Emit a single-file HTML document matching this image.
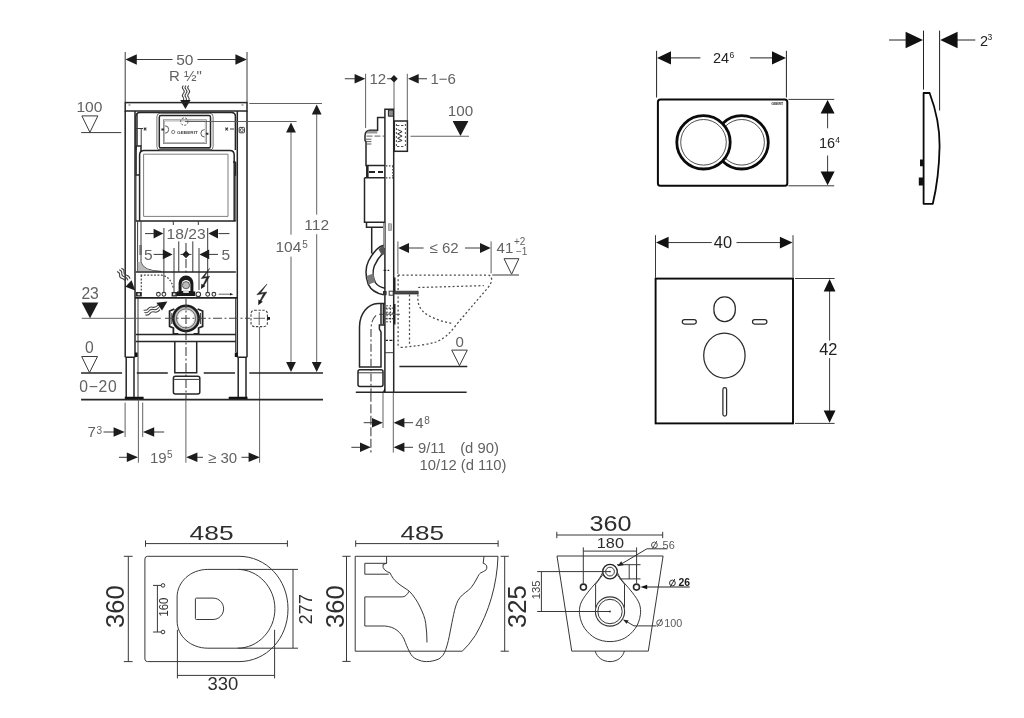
<!DOCTYPE html>
<html>
<head>
<meta charset="utf-8">
<title>Installation dimensions</title>
<style>
html,body{margin:0;padding:0;background:#fff;}
body{width:1024px;height:718px;overflow:hidden;font-family:"Liberation Sans",sans-serif;}
svg{display:block;filter:blur(0.5px);}
text{font-family:"Liberation Sans",sans-serif;}
.t{fill:#626262;font-size:15px;}
.ts{fill:#626262;font-size:9.5px;}
.l{stroke:#3a3a3a;stroke-width:1;fill:none;}
.lt{stroke:#5a5a5a;stroke-width:0.95;fill:none;}
.lk{stroke:#262626;stroke-width:1.5;fill:none;}
.lb{stroke:#222;stroke-width:2;fill:none;}
.a{fill:#1c1c1c;stroke:none;}
.d{stroke:#4a4a4a;stroke-width:1.25;fill:none;stroke-dasharray:2 2.3;}
.cl{stroke:#444;stroke-width:1.1;fill:none;stroke-dasharray:9 2.5 2 2.5;}
.r{fill:#111;}
.rl{stroke:#111;stroke-width:1;fill:none;}
.rt{fill:#222;font-size:16px;}
.b{stroke:#383838;stroke-width:1;fill:none;}
.bt{fill:#2e2e2e;}
</style>
</head>
<body>
<svg width="1024" height="718" viewBox="0 0 1024 718">
<rect x="0" y="0" width="1024" height="718" fill="#ffffff"/>
<g id="all">

<!-- ============ FRONT VIEW ============ -->
<g id="front">
<!-- dim 50 -->
<path class="l" d="M125.2,52 V102 M247,52 V102 M136,59.5 H172.5 M197.5,59.5 H236"/>
<path class="a" d="M125.4,59.5 L136.8,54.3 V64.7 Z M246.8,59.5 L235.4,54.3 V64.7 Z"/>
<text class="t" x="176.2" y="65" style="font-size:15.5px">50</text>
<text class="t" x="169" y="81.3" style="font-size:15px">R ½"</text>
<!-- water arrow top -->
<path class="lt" style="stroke:#444;stroke-width:1.05" d="M183.3,85.5 q-2,2 0,4 q2,2 0,4 q-2,2 0,4 q1,1.4 0,3 M186,85.5 q-2,2 0,4 q2,2 0,4 q-2,2 0,4 q1,1.4 0,3 M188.7,85.5 q-2,2 0,4 q2,2 0,4 q-2,2 0,4 q1,1.4 0,3"/>
<path class="a" d="M180.2,100 H190.6 L185.4,109 Z"/>
<!-- frame -->
<rect class="lk" x="125.2" y="102.6" width="121.8" height="8.4"/>
<path class="lk" d="M125.2,111 V357.3 M126.2,357.3 V398.5 M135,111 V357.3 M134,357.3 V398.5 M125.2,357.3 H135 M247,111 V357.3 M246,357.3 V398.5 M237.3,111 V357.3 M238.2,357.3 V398.5 M237.3,357.3 H247"/>
<path class="l" d="M138,298 V398.5 M235.6,298 V352"/>
<path class="r" d="M124.8,396.8 H143.6 V399.8 H124.8 Z M228.7,396.8 H247.5 V399.8 H228.7 Z M135,352.5 h2.6 v4.6 h-2.6z M234.8,352.5 h2.6 v4.6 h-2.6z"/>
<path class="lt" d="M128.5,105 h2 M241.5,105 h2"/>
<!-- tank -->
<path class="lk" d="M136,150 V116.5 Q136,112.6 140,112.6 H231.4 Q235.4,112.6 235.4,116.5 V150"/>
<path class="lk" d="M139.6,221 V155 Q139.6,150.4 144,150.4 H229.8 Q234.2,150.4 234.2,155 V221"/>
<path class="lt" d="M143.6,216.4 V154.2 H228 V216.4 Z" style="stroke:#777"/>
<path class="lk" d="M136,146 V175 H139.6 M136,146 H141 V152 M235.6,162 V175 H234 M235.6,162 H233"/>
<path class="l" d="M136,221 V150 M235.8,221 V175"/>
<path class="l" d="M137.3,113 V146 M141.2,128 V146 M136,128.5 H143"/>
<path class="lb" d="M135.8,221 H235.8" style="stroke-width:1.6"/>
<!-- plate opening -->
<rect class="lt" x="156.9" y="113.3" width="56.2" height="36.8" rx="3.4" style="stroke:#666"/>
<rect class="lk" x="159.3" y="115.6" width="51.2" height="32.2" rx="1.6" style="stroke-width:1.5"/>
<path class="l" d="M159.3,149.2 H210.5" style="stroke-width:1.2"/>
<rect class="lt" x="163.4" y="119.8" width="43" height="23.8" style="stroke:#777;stroke-width:0.8"/>
<rect class="lt" x="164.6" y="121" width="40.6" height="21.4" style="stroke:#999;stroke-width:0.7"/>
<circle class="lt" cx="184.3" cy="121.6" r="3.7" stroke-dasharray="2 1.6" style="stroke:#444"/>
<path class="lt" d="M165,125.8 a3.7,3.7 0 0 1 0,7.4 M204.6,137 a3.7,3.7 0 0 1 0,-7.4" style="stroke:#555"/>
<circle class="lt" cx="173.2" cy="132" r="1.6" style="stroke:#777"/>
<path class="a" d="M161.4,128.4 h2.6 v2 h-2.6z M205.8,132.8 h2.6 v2 h-2.6z" style="fill:#333"/>
<text x="177" y="133.7" style="font-size:4.4px;font-weight:bold;fill:#444" textLength="20.8" lengthAdjust="spacingAndGlyphs">GEBERIT</text>
<path class="l" d="M143.8,127.6 l2.6,2.8 m0,-2.8 l-2.6,2.8 M225.4,127.6 l2.6,2.8 m0,-2.8 l-2.6,2.8 M230,129 h4" style="stroke-width:1.1"/>
<rect class="l" x="239.2" y="127.4" width="5.2" height="5.4" rx="0.8"/>
<circle class="lt" cx="241.8" cy="130.1" r="1.5"/>
<!-- 104.5 / 112 reference lines -->
<path class="lt" d="M185,121.5 H296.6 M249.3,103.5 H322"/>
<!-- mid section -->
<path class="l" d="M173.3,221 v4 M198.3,221 v4"/>
<path class="l" d="M163.9,228 V293 M207.7,228 V293 M174,248 V292 M199,248 V290 M178.75,241.4 V272 M192.8,241.4 V272"/>
<path class="l" d="M141,221 V262 Q143,271 161.5,271.4 M137.6,221 V271.5"/>
<path class="lt" d="M139,246 h3 M139,248 h3 M139,250 h3 M139,252 h3 M139,254 h3" style="stroke:#444;stroke-width:1.2"/>
<path d="M141,262 Q143,271 161.5,271.4 H137.6 V262 Z" fill="#aaa" opacity="0.8"/>
<!-- 18/23 -->
<path class="l" d="M145,233.6 H154 M218.5,233.6 H229.5"/>
<path class="a" d="M163.3,233.6 L153.6,228.8 V238.4 Z M208.3,233.6 L218,228.8 V238.4 Z"/>
<text class="t" x="166.6" y="239" style="font-size:15.5px" textLength="39" lengthAdjust="spacingAndGlyphs">18/23</text>
<!-- 5 / 5 -->
<text class="t" x="144" y="259.8" style="font-size:15.5px">5</text>
<text class="t" x="221.4" y="259.8" style="font-size:15.5px">5</text>
<path class="l" d="M153.6,254.4 H163.5 M209,254.4 H218 M180.5,254.4 H191.5"/>
<path class="a" d="M172.6,254.4 L162.8,249.6 V259.2 Z M199.4,254.4 L209.2,249.6 V259.2 Z M186,250.6 l3.7,3.8 l-3.7,3.8 l-3.7,-3.8 Z"/>
<path class="cl" d="M186,243 V275"/>
<!-- bars -->
<path class="lk" d="M135.8,271.9 H235.8"/>
<path class="lb" d="M135,297.8 H237.3" style="stroke-width:1.8"/>
<!-- dotted inner -->
<path class="d" d="M140.5,275.2 H161.5 Q171,276.5 173.5,289 M141.3,275.2 V292" style="stroke-dasharray:1.8 1.6"/>
<!-- flush pipe arch -->
<path class="r" d="M178.6,295.6 V283 a7.4,7.6 0 0 1 14.8,0 V295.6 Z" style="fill:#1a1a1a"/>
<path d="M181.6,291 V284.6 a4.4,4.6 0 0 1 8.8,0 V291 Z" fill="#fff"/>
<circle cx="186" cy="285.2" r="3.6" fill="#bbb" stroke="#333" stroke-width="0.7"/>
<path class="r" d="M177,291.4 H195.2 V296 H177 Z" style="fill:#1a1a1a"/>
<path d="M183.2,290 h5.6 v3 h-5.6z" fill="#ddd"/>
<!-- valves -->
<g class="l" style="stroke-width:1.1"><circle cx="158.4" cy="294.3" r="1.9"/><circle cx="163.9" cy="294.3" r="1.9"/><circle cx="198.3" cy="294.3" r="2.3"/><circle cx="207.7" cy="294.3" r="1.9"/><circle cx="213.9" cy="294.3" r="1.9"/></g>
<path class="r" d="M135.8,292 h6 v4.6 h-6z M171.6,292 h5.4 v4.6 h-5.4z" style="fill:#2a2a2a"/>
<path d="M137.6,293.2 h2.4 v2 h-2.4z M173,293.2 h2.4 v2 h-2.4z" fill="#ddd"/>
<path class="lt" d="M218.6,294.2 H231"/><path class="a" d="M233.4,294.2 l-3.4,-1.3 v2.6z"/>
<!-- lightning inner -->
<path d="M209.6,268.4 L201.2,278.6 L206.6,277.8 L202.8,285.6 L203.8,286 L209.6,276.2 L204.2,277 Z" fill="#222" stroke="#222" stroke-width="0.5" stroke-linejoin="round"/>
<path class="a" d="M201,289 L201.4,283.8 L205.4,286 Z"/>
<!-- left wavy arrows -->
<path class="lt" style="stroke:#444;stroke-width:1.05" d="M117,271.5 q3,1 2.6,3.6 q-0.4,2.6 2.6,3.4 q3,0.8 3.4,3.6 M119.2,269.8 q3,1 2.6,3.6 q-0.4,2.6 2.6,3.4 q3,0.8 3.4,3.6 M121.4,268.2 q3,1 2.6,3.6 q-0.4,2.6 2.6,3.4 q3,0.8 3.4,3.6"/>
<path class="a" d="M125.4,286.8 L131.6,280.2 L135.2,290.6 Z"/>
<path class="lt" style="stroke:#444;stroke-width:1.05" d="M143.6,310.2 q3,0.6 4.6,-1.6 q1.6,-2.2 4.6,-1.4 q3,0.8 5.4,-2.4 M144.4,312.6 q3,0.6 4.6,-1.6 q1.6,-2.2 4.6,-1.4 q3,0.8 5.4,-2.4 M145.4,315 q3,0.6 4.6,-1.6 q1.6,-2.2 4.6,-1.4 q3,0.8 5.4,-2.4"/>
<path class="a" d="M156.4,302.8 L167.4,301.4 L162,310.6 Z"/>
<!-- drain -->
<defs><radialGradient id="dg" cx="0.5" cy="0.5" r="0.5"><stop offset="0.55" stop-color="#fff"/><stop offset="0.8" stop-color="#ccc"/><stop offset="1" stop-color="#555"/></radialGradient></defs>
<path class="lk" d="M174.4,309 L169.6,311 V326.4 L173.4,328 V333.8 H178.4 M197.6,309 L202.6,311 V326.4 L198.6,328 V333.8 H193.6" style="stroke-width:1.8"/>
<path class="l" d="M171.8,313 v11 M200.4,313 v11"/>
<circle cx="186" cy="318.4" r="12.8" fill="url(#dg)" stroke="#1c1c1c" stroke-width="2.4"/>
<circle class="l" cx="186" cy="318.4" r="9.6" style="stroke:#666"/>
<path class="cl" d="M186,299 V399"/>
<path class="lt" d="M81.7,318.3 H160.8"/>
<path class="cl" d="M165,318.3 H250"/>
<!-- cross bar + pipe -->
<path class="lk" d="M135.8,334.6 H235.8 M135.8,341.6 H235.8"/>
<path class="lk" d="M174.8,341.6 V372.8 H196.7 V341.6"/>
<rect class="lk" x="173.4" y="376.2" width="26.4" height="17.8" rx="2"/>
<path class="l" d="M173.4,379.4 H199.8"/>
<!-- elec box -->
<rect x="251" y="310.2" width="16.4" height="16.4" rx="3.5" fill="none" stroke="#444" stroke-width="1.1" stroke-dasharray="2.4 1.5"/>
<path class="lt" d="M253.5,318.3 H265 M259.2,312 V325"/>
<path class="a" d="M267,317 h3 v2.8 h-3z"/>
<path d="M267,284 L256.8,294.8 L263.6,293.6 L259.6,301.4 L260.6,301.8 L266.8,292 L260.6,293 Z" fill="#222" stroke="#222" stroke-width="0.5" stroke-linejoin="round"/>
<path class="a" d="M258.2,305.2 L258.4,299.6 L262.8,301.8 Z"/>
<path class="lt" d="M259.6,327 V462.7"/>
<!-- floor lines -->
<path class="lk" d="M81.1,373 H122.1 M136.8,373 H167.8 M203.7,373 H235 M249.3,373 H323" style="stroke-width:1.4"/>
<path class="lk" d="M81.1,399.6 H323" style="stroke-width:1.6"/>
<!-- right dims -->
<path class="lt" d="M316.7,112 V214.6 M316.7,234.2 V363 M291,130 V234.7 M291,256.6 V363"/>
<path class="a" d="M316.7,104.4 L311.8,114.4 H321.6 Z M291,122.4 L286.1,132.4 H295.9 Z M316.7,372 L311.8,362 H321.6 Z M291,372 L286.1,362 H295.9 Z"/>
<text class="t" x="304.3" y="229.8" style="font-size:15.5px">112</text>
<text class="t" x="275.4" y="252.2" style="font-size:15.5px">104</text>
<text class="ts" x="302.2" y="247.8" style="font-size:10px">5</text>
<!-- left level marks -->
<text class="t" x="76.4" y="112.3" style="font-size:15px" textLength="26" lengthAdjust="spacingAndGlyphs">100</text>
<path class="l" d="M81.9,115.9 H97.9 L89.9,132.3 Z M81.1,132.6 H121.3"/>
<text class="t" x="81.4" y="298.7" style="font-size:15.7px">23</text>
<path class="a" d="M81.7,302.6 H98.3 L90,318.2 Z"/>
<text class="t" x="85" y="352.9" style="font-size:15.7px">0</text>
<path class="l" d="M81.7,356.5 H97.5 L89.5,372.6 Z"/>
<text class="t" x="79.2" y="392.2" style="font-size:15.7px" textLength="37.6" lengthAdjust="spacing">0−20</text>
<!-- bottom dims -->
<path class="lt" d="M125.1,402.6 V437 M142.7,402.6 V437 M138.4,399.6 V462.7 M185.9,399.6 V462.7"/>
<text class="t" x="87.6" y="437.2" style="font-size:15px">7</text><text class="ts" x="96.4" y="433.6" style="font-size:10px">3</text>
<path class="l" d="M103.5,432 H114 M154,432 H164.2 M119,457.3 H128 M197,457.3 H203 M241.5,457.3 H250"/>
<path class="a" d="M124.7,432 L113.6,427.2 V436.8 Z M143,432 L154.2,427.2 V436.8 Z M138,457.3 L126.8,452.5 V462.1 Z M186.2,457.3 L197.4,452.5 V462.1 Z M259.8,457.3 L248.6,452.5 V462.1 Z"/>
<text class="t" x="150" y="462.6" style="font-size:15px">19</text><text class="ts" x="166.9" y="458.4" style="font-size:10px">5</text>
<text class="t" x="208" y="462.6" style="font-size:15px">≥ 30</text>
</g>

<!-- ============ SIDE VIEW ============ -->
<g id="side">
<!-- top dims -->
<path class="l" d="M344.8,78.75 H356 M387.2,78.75 H391 M417.5,78.75 H427"/>
<path class="lt" d="M365.6,73.75 V128 M394,82 V109 M407.3,73.75 V121"/>
<path class="a" d="M365.3,78.75 L354.6,73.9 V83.6 Z M408,78.75 L418.7,73.9 V83.6 Z M394,75 l3.7,3.75 l-3.7,3.75 l-3.7,-3.75 Z"/>
<text class="t" x="369.4" y="84.2" style="font-size:15px">12</text>
<text class="t" x="430.4" y="84.2" style="font-size:15px">1−6</text>
<text class="t" x="447.8" y="116.3" style="font-size:15.2px">100</text>
<path class="a" d="M452.6,121 H468.4 L460.5,136 Z"/>
<path class="lt" d="M410.5,136.25 H469"/>
<!-- post -->
<path class="lk" d="M384.9,392 V109.3 H393.7 V392"/>
<path d="M388.4,110 h5 v6.2 h-5z" fill="#8a8a8a" stroke="#222" stroke-width="1"/>
<!-- upper body -->
<path class="lk" d="M384.9,117.6 H377.6 V130.3 H369.5 Q365,131 365,136 V140.4 Q365.2,141.4 366,141.4 V165.6 H384.9"/>
<path d="M368,130.8 H377.4 V133.4 H366.4 Z" fill="#999"/>
<path class="lt" d="M366.5,136.1 h6 m2,0 h6 m2,0 h2.4 M366,139.2 h5.4 M366,141.6 h5.4 M366,144 h5.4" style="stroke:#555"/>
<!-- wall box -->
<rect class="lk" x="394.3" y="121" width="13.1" height="30.3"/>
<path class="lt" d="M397,125.5 h2.4 m1.6,0 h2.4 M397,146.5 h2.4 m1.6,0 h2.4 M396.4,124 v2 m0,2 v2 m0,2 v2 m0,2 v2 m0,2 v2 m0,2 v2 M405.4,124 v2 m0,2 v2 m0,2 v2 m0,2 v2 m0,2 v2 m0,2 v2" style="stroke:#444"/>
<path class="lt" d="M397.6,129.5 l4.5,2.2 l-4.5,2.2 l4.5,2.2 l-4.5,2.2 l4.5,2.2 l-4.5,1.4" style="stroke:#333;stroke-width:1"/>
<!-- mid section -->
<path class="lk" d="M367,165.6 V177.8 M364.5,177.8 H384.9 M364.5,177.8 V222.2 H384.9 M366.5,222.2 V227.2 H384.9" />
<path class="lb" d="M367.4,166 V177.6" style="stroke-width:2.4"/>
<path class="lb" d="M369,172 h6 m3,0 h5" style="stroke-width:2"/>
<path class="d" d="M386,165.8 H393 M386,177.8 H393 M392.8,166 V178" style="stroke-dasharray:1.5 1.5"/>
<rect x="388.6" y="223.8" width="3" height="6.6" fill="#bbb" stroke="#777" stroke-width="0.6"/>
<path d="M383,223 h2 v25 h-2z" fill="#999"/>
<!-- flush pipe S-bend -->
<path class="lk" d="M371.7,227.4 V253.6 M383.5,245.2 C377,247 372.2,254 368.5,261 C365,268 365,275 368.3,284.4 C371,290 377,293.5 383.4,294.7"/>
<path class="lk" d="M383,253 C380,256 376.5,261 374.3,266 C372.4,271 373,278 375.4,282.6 C377.5,285.5 381,287.5 384.9,288.3"/>
<path d="M383.6,244.6 L384.6,254 L382,255.4 L378.6,249.6 Z" fill="#555"/>
<path d="M366.6,276 L373.2,273.6 L375.2,282 L368.6,284.6 Z" fill="#7a7a7a"/>
<!-- bolt -->
<path d="M394.2,291.2 H418.2 V294 H394.2 Z" fill="#4a4a4a" stroke="#222" stroke-width="0.7"/>
<rect class="l" x="389.2" y="291.2" width="4" height="4"/>
<path d="M383,291 h3.6 v4.2 h-3.6z" fill="#333"/>
<path class="lb" d="M394.4,277.6 V291.2 M394.4,304 V324.6" style="stroke-width:2.2"/>
<path class="lt" d="M383.6,270.4 h5.6" style="stroke:#222;stroke-width:1.3;stroke-dasharray:2.6 1.4"/>
<!-- dotted stuff inside post -->
<path class="d" d="M387,305 V324 M390.4,305 V324 M385.4,308 H393.5 M385.4,313 H393.5 M385.4,318.5 H393.5" style="stroke-dasharray:1.6 1.6;stroke:#444"/>
<path class="lt" d="M379,314.3 H400"/>
<!-- drain bend -->
<path class="lk" d="M384.9,303.5 H378 C368,304 359.5,313 359.5,327 V366.9 H381 V332 L379.4,329 V325 H384.9"/>
<path class="lk" d="M381,303.8 V324.6 M383.4,303.8 V324.6"/>
<path class="cl" d="M376,315.4 Q371,320 371,330 V392" style="stroke-dasharray:8 2.4 2 2.4"/>
<rect class="lk" x="358" y="369.8" width="25" height="16.6" rx="2"/>
<path class="l" d="M358,372.8 H383"/>
<path class="l" d="M384.9,352.7 H393.7"/>
<path class="lt" d="M385.6,340.4 h2.4 m1.4,0 h3" style="stroke:#222;stroke-width:1.2"/>
<path class="r" d="M382.8,392.3 L384.9,387.4 V392.3 Z"/>
<!-- bowl dotted -->
<path class="d" d="M398,275 H487.5 Q491.9,275.2 491.6,280.4 Q491,284 488,287.6 L456,325 Q447.5,337.4 436,342 Q421,346 398,347.7"/>
<path class="d" d="M418.2,287.5 L483.8,285.6 M417.9,294.4 V301 Q419.6,312 432,317.2 Q442,322 452.5,323.4 M398.1,275 V347.7 M409.5,294.4 V343.8"/>
<!-- <=62 dim -->
<path class="lt" d="M397.9,241.4 V274 M491.1,241.4 V273.4"/>
<path class="l" d="M408,248 H423.6 M465,248 H481"/>
<path class="a" d="M398.2,248 L409,243.1 V252.9 Z M490.8,248 L480,243.1 V252.9 Z"/>
<text class="t" x="429.6" y="253.2" style="font-size:15px">≤ 62</text>
<text class="t" x="496.6" y="253.2" style="font-size:15px">41</text>
<text class="ts" x="514" y="244.6" style="font-size:10px">+2</text>
<text class="ts" x="516" y="254.8" style="font-size:10px">−1</text>
<path class="l" d="M504,258.7 H518.9 L511.6,274.2 Z M492.3,275 H519"/>
<!-- 0 level -->
<text class="t" x="455.4" y="346.9" style="font-size:15px">0</text>
<path class="l" d="M451.7,350.1 H467.3 L459.5,365.6 Z"/>
<path class="lk" d="M399.4,366.4 H467.3 M355.8,392.3 H466.6" style="stroke-width:1.5"/>
<!-- bottom dims -->
<path class="cl" d="M370.9,392.8 V452.6" style="stroke-dasharray:9 2.5"/>
<path class="lt" d="M383,392.8 V428 M393.3,392.8 V452.6"/>
<path class="l" d="M363.7,422.7 H373 M404,422.7 H413 M351.4,447.3 H361 M404,447.3 H413"/>
<path class="a" d="M382.8,422.7 L372,417.9 V427.5 Z M393.6,422.7 L404.4,417.9 V427.5 Z M370.8,447.3 L360,442.5 V452.1 Z M393.6,447.3 L404.4,442.5 V452.1 Z"/>
<text class="t" x="415.2" y="428" style="font-size:15px">4</text><text class="ts" x="424.2" y="424.4" style="font-size:10px">8</text>
<text class="t" x="418" y="452.6" style="font-size:14.8px">9/11</text>
<text class="t" x="460.2" y="452.6" style="font-size:14.8px">(d 90)</text>
<text class="t" x="419.6" y="470.2" style="font-size:14.8px">10/12 (d 110)</text>
</g>

<!-- ============ FLUSH PLATE ============ -->
<g id="plate">
<path class="rl" d="M656.6,50.8 V97.5 M786.4,50.8 V97.5 M670,57.9 H700.4 M750.1,57.9 H773" style="stroke:#222"/>
<path class="r" d="M657,57.9 L671,51.2 V64.6 Z M786,57.9 L772,51.2 V64.6 Z"/>
<text class="rt" x="713" y="63.3" style="font-size:14.5px">24</text><text class="rt" x="729.4" y="57.6" style="font-size:8.5px">6</text>
<rect x="657.9" y="99.5" width="129.4" height="86.3" rx="2.5" fill="none" stroke="#0a0a0a" stroke-width="2"/>
<circle cx="741.6" cy="142.3" r="26.7" fill="#fff" stroke="#0a0a0a" stroke-width="2.8"/>
<circle cx="741.6" cy="142.3" r="22.8" fill="none" stroke="#222" stroke-width="0.8"/>
<circle cx="703.5" cy="142.3" r="26.7" fill="#fff" stroke="#0a0a0a" stroke-width="2.8"/>
<circle cx="703.5" cy="142.3" r="22.8" fill="none" stroke="#222" stroke-width="0.8"/>
<text x="771.4" y="105.2" style="font-size:3.6px;font-weight:bold;fill:#222" textLength="11.8" lengthAdjust="spacingAndGlyphs">GEBERIT</text>
<path class="rl" d="M788.4,99.4 H834.2 M788.4,185.8 H834.2 M827.6,112 V128.3 M827.6,155.5 V172" style="stroke:#222;stroke-width:0.9"/>
<path class="r" d="M827.6,99.9 L820.6,113.6 H834.6 Z M827.6,185.2 L820.6,171.4 H834.6 Z"/>
<text class="rt" x="819" y="147.9" style="font-size:14.5px">16</text><text class="rt" x="835.2" y="142.6" style="font-size:8.5px">4</text>
</g>

<g id="profile">
<path class="rl" d="M889,40 H906 M957,40 H975.3 M923.5,30.6 V89.6 M939.6,30.6 V110.5" style="stroke:#222"/>
<path class="r" d="M923,40 L905.6,31.8 V48.2 Z M940.2,40 L957.6,31.8 V48.2 Z"/>
<text class="rt" x="980" y="45.6" style="font-size:14.5px">2</text><text class="rt" x="987.4" y="40" style="font-size:8.5px">3</text>
<path d="M923.6,93 H929.6 Q939.8,120 939.6,146 Q939,178 932.8,203.8 H923.6 Z" fill="#fff" stroke="#0a0a0a" stroke-width="1.8" stroke-linejoin="round"/>
<path class="r" d="M920,159.4 h3.6 v6.8 h-3.6z M918.8,177.4 h4.8 v8.2 h-4.8z"/>
</g>

<g id="pad">
<path class="rl" d="M655.5,235.2 V277.7 M793,235.2 V277.7 M668,242.55 H711.7 M736.5,242.55 H781" style="stroke:#222;stroke-width:0.9"/>
<path class="r" d="M656,242.55 L668.6,236.7 V248.4 Z M792.5,242.55 L779.9,236.7 V248.4 Z"/>
<text class="rt" x="713.8" y="248.4" style="font-size:16.4px">40</text>
<rect x="655.6" y="278.6" width="137.4" height="144.8" fill="none" stroke="#0a0a0a" stroke-width="1.9"/>
<rect x="713.9" y="296.9" width="21.4" height="24.6" rx="10.4" ry="11.2" fill="none" stroke="#2a2a2a" stroke-width="1.25"/>
<rect x="682.3" y="319.7" width="14" height="4.3" rx="2.15" fill="none" stroke="#2a2a2a" stroke-width="1.25"/>
<rect x="752.5" y="319.7" width="14.4" height="4.3" rx="2.15" fill="none" stroke="#2a2a2a" stroke-width="1.25"/>
<ellipse cx="724.4" cy="355.5" rx="20.7" ry="22.5" fill="none" stroke="#2a2a2a" stroke-width="1.25"/>
<rect x="722.9" y="387.6" width="3.7" height="28.5" rx="1.85" fill="none" stroke="#2a2a2a" stroke-width="1.25"/>
<path class="rl" d="M795,278.5 H834.6 M795,423.4 H834.6 M829.6,290 V340.6 M829.6,358.1 V412" style="stroke:#222;stroke-width:0.9"/>
<path class="r" d="M829.6,279.1 L823.7,291.4 H835.5 Z M829.6,422.8 L823.7,410.5 H835.5 Z"/>
<text class="rt" x="819.2" y="355.2" style="font-size:16.4px">42</text>
</g>

<!-- ============ WC TOP ============ -->
<g id="wctop">
<text class="bt" x="189.6" y="539.6" style="font-size:21px" textLength="44" lengthAdjust="spacingAndGlyphs">485</text>
<path class="b" d="M145.5,543.6 H287.4 M145.5,540.4 V546.8 M287.4,540.4 V546.8"/>
<path class="b" d="M128.3,556.3 V661.6 M123.8,556.3 H132.6 M123.8,661.6 H132.6"/>
<text class="bt" transform="translate(124.3,627.9) rotate(-90)" style="font-size:25.6px" textLength="42.6" lengthAdjust="spacingAndGlyphs">360</text>
<path class="b" d="M147.6,556.3 H239 C266,556.3 288,579 288,608.9 C288,639 266,661.6 239,661.6 H147.6 Q144.9,661.6 144.9,659 V559 Q144.9,556.3 147.6,556.3 Z" style="stroke-width:1"/>
<path class="b" d="M207.9,569.4 H237.5 C258,569.4 274.9,587 274.9,608.8 C274.9,630.6 258,648.2 237.5,648.2 H207.9 C190.5,648.2 177.1,636 177.1,621 V597 C177.1,582 190.5,569.4 207.9,569.4 Z" style="stroke-width:1"/>
<path class="b" d="M196.4,598.1 H213.1 C219,598.1 223.6,603 223.6,608.8 C223.6,614.6 219,619.5 213.1,619.5 H196.4 Q195.4,619.5 195.4,618.5 V599.1 Q195.4,598.1 196.4,598.1 Z" style="stroke-width:1"/>
<path class="b" d="M157.4,585.4 V632 M153,585.4 H161.2 M153,632 H161.2"/>
<circle class="b" cx="163" cy="585.4" r="1.8"/><circle class="b" cx="163" cy="632" r="1.8"/>
<text class="bt" transform="translate(167.6,616.6) rotate(-90)" style="font-size:12.6px" textLength="19" lengthAdjust="spacingAndGlyphs">160</text>
<path class="b" d="M237.5,569.4 H298 M237.5,648.2 H298 M293,569.4 V648.2"/>
<text class="bt" transform="translate(312.2,624.6) rotate(-90)" style="font-size:18.4px" textLength="30.6" lengthAdjust="spacingAndGlyphs">277</text>
<path class="b" d="M177.4,629.8 V678.4 M274.6,629.8 V678.4 M177.4,675.4 H274.6"/>
<text class="bt" x="207.6" y="690" style="font-size:18.4px" textLength="30.8" lengthAdjust="spacingAndGlyphs">330</text>
</g>

<g id="wcside">
<text class="bt" x="400.4" y="539.6" style="font-size:21px" textLength="43.6" lengthAdjust="spacingAndGlyphs">485</text>
<path class="b" d="M355.7,543.6 H498.1 M355.7,540.4 V546.8 M498.1,540.4 V546.8"/>
<path class="b" d="M346.5,556.3 V661.4 M342.4,556.3 H350.6 M342.4,661.4 H350.6"/>
<text class="bt" transform="translate(344.3,627.9) rotate(-90)" style="font-size:25.6px" textLength="42.6" lengthAdjust="spacingAndGlyphs">360</text>
<path class="b" d="M498,556.3 H355.2 V651.2 H462.3 Q469,645 475.3,635.5 C489,612 497,585 498,556.3" style="stroke-width:1"/>
<path class="b" d="M386.6,556.3 V563.3 L383,564.5 Q382.6,568 384.6,569.8 Q387,572 390,572.9 C392,577 394,580 397,582.4 C401,586 405,588 409.2,591.1 C414,596 417,601 419.6,606 C423,613 425,618 425.7,623.3 C426.6,630 427,636 427,642.5" style="stroke-width:1"/>
<path class="b" d="M386.6,563.3 H364.8 V574.2 H388.6" style="stroke-width:1"/>
<path class="b" d="M409.2,591.1 C407,595 405,596.9 402.2,596.9 H364.8 V626 H384.8 C390,626.4 394,628 397,630.3 C400.5,633 402.5,636 404,639 C406,644 407.5,648 409.2,651.2 C411,655.5 413.5,657.8 416.2,659 C420,660.8 423,661.6 426.6,661.6 C431,661.6 435,660.6 438.8,659 C442,657 444.4,654 445.75,649.5 C448,643 449,638 450.1,632 C451.5,625 452.4,620 453.6,614.6 C454.8,609 456,604.5 457.9,600.7 C460.5,596 464,593.5 468.4,590.3 C472.5,587 475.5,581 478,576.3 C479,574.5 479.6,573.6 480.6,572.9 C482.4,571.8 484.4,571.4 485.8,570.2 Q487.4,568.4 486.7,565.9 Q486,564 483.2,563.3 L484,556.3" style="stroke-width:1"/>
<path class="b" d="M504.7,556.3 V651.2 M500.6,556.3 H508.8 M500.6,651.2 H508.8"/>
<text class="bt" transform="translate(526.4,627.9) rotate(-90)" style="font-size:25.6px" textLength="42.6" lengthAdjust="spacingAndGlyphs">325</text>
</g>

<g id="wcback">
<text class="bt" x="589.4" y="530.6" style="font-size:22.4px" textLength="42" lengthAdjust="spacingAndGlyphs">360</text>
<path class="b" d="M556.8,535 H662.7 M556.8,531.8 V538.2 M662.7,531.8 V538.2"/>
<text class="bt" x="596.8" y="547.6" style="font-size:15.4px" textLength="27.2" lengthAdjust="spacingAndGlyphs">180</text>
<path class="b" d="M583.3,551.1 H636.6 M583.3,547.4 V583.4 M636.6,547.4 V583.4"/>
<path class="b" d="M557,556 H663.1 L648.3,651.1 H571.75 Z" style="stroke-width:1"/>
<!-- 135 -->
<path class="b" d="M537.2,571.6 H610 M537.2,611.5 H610 M541.4,571.6 V611.5"/>
<circle cx="610" cy="611.5" r="0.9" fill="#333"/><circle cx="610" cy="571.6" r="0.8" fill="#333"/>
<text class="bt" transform="translate(540.4,599.2) rotate(-90)" style="font-size:11.6px;fill:#444" textLength="18.8" lengthAdjust="spacingAndGlyphs">135</text>
<!-- keyhole -->
<path class="b" d="M602.6,572.6 C600.5,577 598.5,580 596.1,582.6 C593,586 590,589.5 587.4,592.9 C584.5,596.8 582,600 580.5,604.2 C579.3,608 579.2,611.5 579.6,614.6 C580.4,620 582,624.6 584.8,628.5 C587.8,632.6 591,635.6 595.2,638.1 C600,640.6 605,641.6 610,641.6 C615,641.6 620,640.6 624.8,638.1 C629,635.6 632.2,632.6 635.2,628.5 C638,624.6 639.6,620 640.4,614.6 C640.8,611.5 640.7,608 639.5,604.2 C638,600 635.5,596.8 632.6,592.9 C630,589.5 627,586 623.9,582.6 C621.5,580 619.5,577 617.4,572.6" style="stroke-width:1"/>
<path class="b" d="M595.6,584.2 V607.6 M624.5,584.2 V607.6 M603,574.4 L595.6,584.2 M617,574.4 L624.5,584.2"/>
<circle class="b" cx="610" cy="571.6" r="7.3" style="stroke-width:1.3;stroke:#222"/>
<circle class="b" cx="610" cy="571.6" r="4.4"/>
<circle class="b" cx="610" cy="611.5" r="14.6" style="stroke-width:1.1"/>
<circle class="b" cx="610" cy="611.5" r="12.2"/>
<circle class="b" cx="583.4" cy="587.1" r="3" style="stroke-width:1.6;stroke:#2a2a2a"/>
<circle class="b" cx="636.5" cy="587.1" r="3" style="stroke-width:1.6;stroke:#2a2a2a"/>
<!-- small rect -->
<path class="b" d="M617,564.7 H640.5 M619.6,578.9 H640.5 M629.2,564.7 V578.9 M636.5,564.7 V578.9"/>
<!-- leaders -->
<path class="b" d="M667.4,548.8 H646.9 L621,564.2" style="stroke:#333"/>
<path class="a" d="M617.4,566.2 L621.2,561.2 L623.6,565.2 Z" style="fill:#222"/>
<circle class="b" cx="654.4" cy="545" r="2.9" style="stroke:#555"/><path class="b" d="M652.2,549 L656.8,541" style="stroke:#555"/>
<text class="bt" x="662.6" y="548.6" style="font-size:10.6px;fill:#5a5a5a" textLength="12.2" lengthAdjust="spacingAndGlyphs">56</text>
<path class="b" d="M646,587 H689.8" style="stroke:#222;stroke-width:1.1"/>
<path class="a" d="M640.4,587 L647.2,584.8 V589.2 Z" style="fill:#111"/>
<circle class="b" cx="672.4" cy="583" r="2.9" style="stroke:#333"/><path class="b" d="M670.2,587 L674.8,579" style="stroke:#333"/>
<text class="bt" x="678.4" y="586.4" style="font-size:10.4px;font-weight:bold;fill:#1a1a1a" textLength="11.6" lengthAdjust="spacingAndGlyphs">26</text>
<path class="b" d="M656.5,625.9 H634 L626,621.2" style="stroke:#333"/>
<path class="a" d="M622.9,619.4 L628.6,620.4 L626.6,623.8 Z" style="fill:#222"/>
<circle class="b" cx="659.6" cy="622.8" r="2.9" style="stroke:#555"/><path class="b" d="M657.4,626.8 L662,618.8" style="stroke:#555"/>
<text class="bt" x="664.2" y="626.5" style="font-size:10.4px;fill:#5a5a5a" textLength="18" lengthAdjust="spacingAndGlyphs">100</text>
<!-- bottom bump -->
<path class="b" d="M595.2,651.1 C597,657.6 603,661.6 610,661.6 C617,661.6 622.6,657.6 624.4,651.1" style="stroke-width:1"/>
</g>

</g>
</svg>
</body>
</html>
